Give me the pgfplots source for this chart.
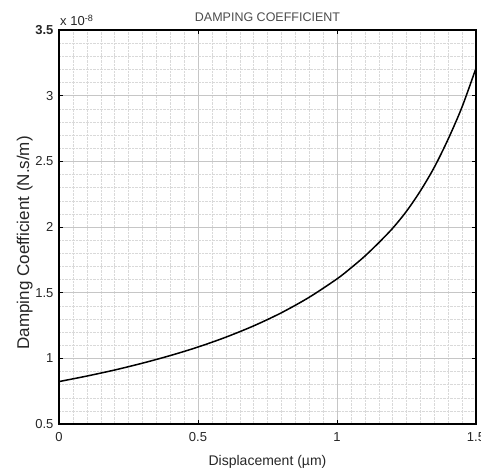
\documentclass[border=0pt]{standalone}
\usepackage{pgfplots}
\pgfplotsset{compat=1.18}
\usepackage{fontspec}
\setmainfont{Liberation Sans}
\begin{document}
\begin{tikzpicture}
\begin{axis}[
  scale only axis,
  clip=false,
  width=417pt, height=394pt,
  xmin=0, xmax=1.5, ymin=0.5, ymax=3.5,
  xtick={0,0.5,1,1.5}, ytick={0.5,1,1.5,2,2.5,3,3.5},
  xticklabels={0,0.5,1,1.5},
  yticklabels={0.5,1,1.5,2,2.5,3,\textbf{3.5}},
  minor x tick num=9, minor y tick num=4,
  grid=both,
  major grid style={gray!45, line width=0.5pt},
  minor grid style={gray!30, densely dotted, line width=0.4pt},
  axis line style={black, line width=1.2pt},
  tick style={black, line width=0.6pt},
  major tick length=4pt, minor tick length=0pt,
  tick align=inside,
  ticklabel style={font=\fontsize{13}{15}\selectfont, text=black!85},
  xticklabel style={yshift=-5pt},
  yticklabel style={xshift=-2pt},
  /pgf/number format/assume math mode=true,
  xlabel={Displacement (µm)},
  ylabel={Damping Coefficient (N.s/m)},
  xlabel style={font=\fontsize{14}{16}\selectfont, text=black!85, yshift=-7pt},
  ylabel style={font=\fontsize{17}{19}\selectfont, text=black!85, at={(ticklabel cs:0.46)}, yshift=-4pt},
  title={DAMPING COEFFICIENT},
  title style={font=\fontsize{12.5}{15}\selectfont, text=black!70, yshift=-1pt},
]
\addplot[black, line width=1.5pt, smooth] coordinates {
(0,0.823) (0.1,0.865) (0.2,0.911) (0.3,0.963) (0.4,1.021) (0.5,1.086)
(0.6,1.161) (0.7,1.247) (0.8,1.347) (0.9,1.465) (1.0,1.605) (1.05,1.688) (1.1,1.778)
(1.15,1.88) (1.2,1.99) (1.25,2.12) (1.3,2.275) (1.35,2.455) (1.4,2.67) (1.45,2.915) (1.5,3.21)
};
\node[anchor=south west, font=\fontsize{13}{15}\selectfont, text=black!85, inner sep=1pt] at (rel axis cs:0.0,1.008) {x 10\textsuperscript{-8}};
\end{axis}
\pgfresetboundingbox
\path ([shift={(-59pt,-49pt)}]current axis.south west) rectangle ([shift={(5pt,30pt)}]current axis.north east);
\end{tikzpicture}
\end{document}
